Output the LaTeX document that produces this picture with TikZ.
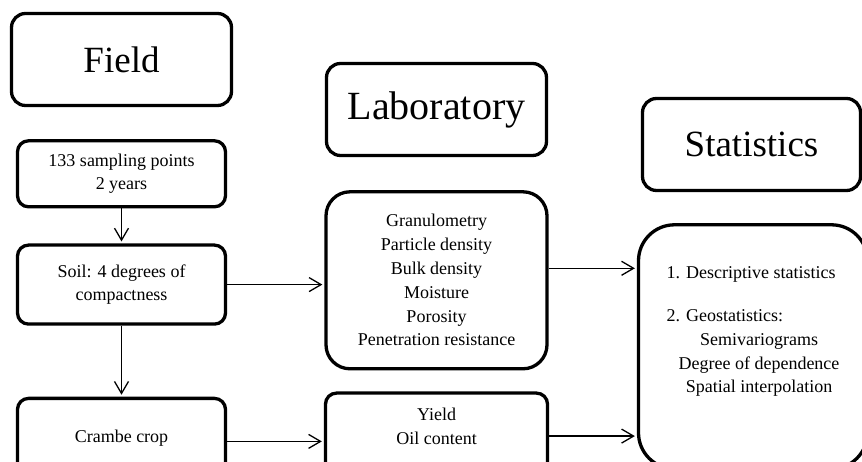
\documentclass[tikz,border=0pt]{standalone}
\usepackage{fontspec}
\setmainfont{Liberation Serif}
\usepackage{tikz}
\usetikzlibrary{positioning,arrows.meta}

\begin{document}
\begin{tikzpicture}[x = 1pt, y = 1pt, node distance = 30pt,
	header/.style={
		rectangle, rounded corners = 14pt, line width = 3.3pt, draw = black,
		minimum width = 220pt, minimum height = 92pt, font = \fontsize{37}{44}\selectfont},
	terminal/.style={
		rectangle, rounded corners = 11pt, line width = 3.3pt, draw = black,
		align = center, inner sep = 0pt, font = \fontsize{18}{23.8}\selectfont},
	link/.style={line width = 1.3pt, -{Straight Barb[length=12pt,width=14pt]}, shorten >= 2pt}]
		\useasboundingbox (0,0) rectangle (862,462);
		\clip (0,0) rectangle (862,462);
		\node (F) [header] at (121.5,402.5) {Field};
		\node (FA) [terminal, minimum width = 208pt, minimum height = 66pt, below=32pt of F] {133 sampling points\\2 years};
		\node (FB) [terminal, minimum width = 208pt, minimum height = 79pt, below=35pt of FA] {Soil: 4 degrees of\\compactness};
		\node (FC) [terminal, minimum width = 208pt, minimum height = 80pt, below=71pt of FB] {Crambe crop};
		\node (L) [header, font = \fontsize{40}{46}\selectfont] at (436.5,352.5) {Laboratory};
		\node (LA) [terminal, rounded corners = 24pt, minimum width = 221pt, minimum height = 177pt, below=33pt of L] {Granulometry\\Particle density\\Bulk density\\Moisture\\Porosity\\Penetration resistance};
		\node (LB) [terminal, minimum width = 222pt, minimum height = 80pt, below=21pt of LA] {\raisebox{5pt}[\height][\depth]{\begin{tabular}{@{}c@{}}Yield\\Oil content\end{tabular}}};
		\node (S) [header, minimum width = 218pt] at (751.5,317.5) {Statistics};
		\node (SA) [terminal, rounded corners = 36pt, minimum width = 229pt, minimum height = 244pt, below=31pt of S.south west, anchor=north west, xshift=-4pt] {\raisebox{16pt}[\height][\depth]{\begin{tabular}{@{}l@{}}
			1. Descriptive statistics\\[19.5pt]
			2. Geostatistics:\\
			\multicolumn{1}{@{}c@{}}{\hspace{12pt}Semivariograms}\\
			\multicolumn{1}{@{}c@{}}{\hspace{12pt}Degree of dependence}\\
			\multicolumn{1}{@{}c@{}}{\hspace{12pt}Spatial interpolation}
		\end{tabular}}};
		\draw [link] (FA) -- (FB);
		\draw [link] (FB) -- (FC);
		\draw [link] (FB.east) -- (FB.east -| LA.west);
		\draw [link] ([yshift=-3pt]FC.east) -- ([yshift=-3pt]FC.east -| LB.west);
		\draw [link] ([yshift=12pt]LA.east) -- ([yshift=12pt]LA.east -| SA.west);
		\draw [link] ([yshift=-3pt]LB.east) -- ([yshift=-3pt]LB.east -| SA.west);
	\end{tikzpicture}
\end{document}
